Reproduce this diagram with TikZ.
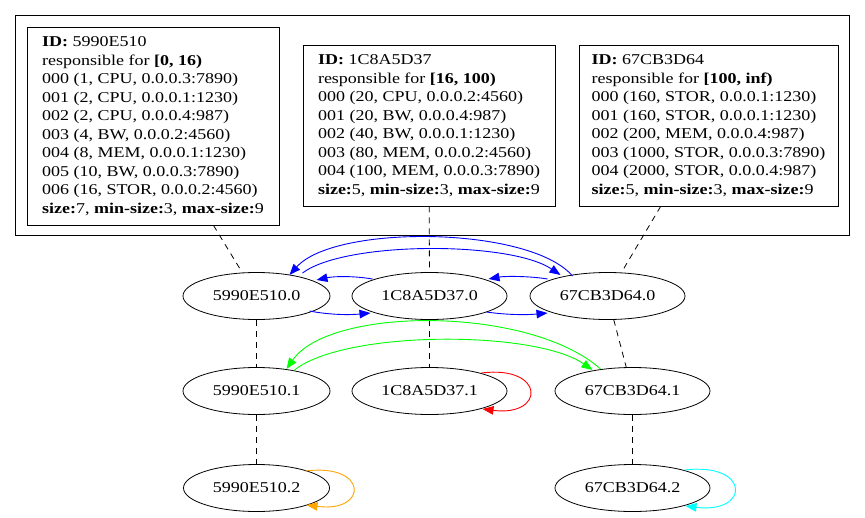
\documentclass[tikz,border=0pt]{standalone}
\usepackage{fontspec}
\setmainfont{Liberation Serif}[FakeStretch=1.2]
\usetikzlibrary{arrows.meta,calc,shapes.geometric}
\definecolor{gvblue}{RGB}{0,0,255}
\definecolor{gvgreen}{RGB}{0,255,0}
\definecolor{gvred}{RGB}{255,0,0}
\definecolor{gvorange}{RGB}{255,165,0}
\definecolor{gvcyan}{RGB}{0,255,255}
\tikzset{
  info/.style={draw, align=left, inner sep=0pt, line width=0.8pt, font=\fontsize{15}{18.5}\selectfont},
  state/.style={draw, ellipse, minimum height=47pt, inner sep=0pt, line width=0.8pt, font=\fontsize{15}{17}\selectfont},
  link/.style={line width=0.8pt, dash pattern=on 6pt off 5pt},
  arr/.style={line width=0.9pt, -{Triangle[length=11pt,width=8.5pt]}},
}
\begin{document}
\begin{tikzpicture}[x=1pt,y=-1pt]
\useasboundingbox (0,0) rectangle (865,517);
\node[draw, line width=0.8pt, minimum width=834pt, minimum height=220pt, inner sep=0pt] (cluster) at (432,125) {};

\node[info, minimum width=252pt, minimum height=198pt] (box1) at (153,126) {%
\textbf{ID:} 5990E510\\
responsible for \textbf{[0, 16)}\\
000 (1, CPU, 0.0.0.3:7890)\\
001 (2, CPU, 0.0.0.1:1230)\\
002 (2, CPU, 0.0.0.4:987)\\
003 (4, BW, 0.0.0.2:4560)\\
004 (8, MEM, 0.0.0.1:1230)\\
005 (10, BW, 0.0.0.3:7890)\\
006 (16, STOR, 0.0.0.2:4560)\\
\textbf{size:}7, \textbf{min-size:}3, \textbf{max-size:}9};

\node[info, minimum width=252pt, minimum height=161pt] (box2) at (429,125.5) {%
\textbf{ID:} 1C8A5D37\\
responsible for \textbf{[16, 100)}\\
000 (20, CPU, 0.0.0.2:4560)\\
001 (20, BW, 0.0.0.4:987)\\
002 (40, BW, 0.0.0.1:1230)\\
003 (80, MEM, 0.0.0.2:4560)\\
004 (100, MEM, 0.0.0.3:7890)\\
\textbf{size:}5, \textbf{min-size:}3, \textbf{max-size:}9};

\node[info, minimum width=259pt, minimum height=161pt] (box3) at (708.5,125.5) {%
\textbf{ID:} 67CB3D64\\
responsible for \textbf{[100, inf)}\\
000 (160, STOR, 0.0.0.1:1230)\\
001 (160, STOR, 0.0.0.1:1230)\\
002 (200, MEM, 0.0.0.4:987)\\
003 (1000, STOR, 0.0.0.3:7890)\\
004 (2000, STOR, 0.0.0.4:987)\\
\textbf{size:}5, \textbf{min-size:}3, \textbf{max-size:}9};

\node[state, minimum width=147pt] (n00) at (256.5,296) {5990E510.0};
\node[state, minimum width=155pt] (n10) at (429.5,296) {1C8A5D37.0};
\node[state, minimum width=155pt] (n20) at (607.5,296) {67CB3D64.0};
\node[state, minimum width=147pt] (n01) at (256.5,391) {5990E510.1};
\node[state, minimum width=155pt] (n11) at (429.5,391) {1C8A5D37.1};
\node[state, minimum width=155pt] (n21) at (632.5,391) {67CB3D64.1};
\node[state, minimum width=146pt] (n02) at (256.5,488) {5990E510.2};
\node[state, minimum width=155pt] (n22) at (632.5,488) {67CB3D64.2};

% dashed links
\draw[link] (box1) -- (n00);
\draw[link] (box2) -- (n10);
\draw[link] (box3) -- (n20);
\draw[link] (n00) -- (n01);
\draw[link] (n10) -- (n11);
\draw[link] (n20) -- (n21);
\draw[link] (n01) -- (n02);
\draw[link] (n21) -- (n22);

% blue
\draw[arr, gvblue] ($(n20.center)+(-35,-20)$) .. controls (530,226) and (335,224) .. ($(n00.center)+(33,-21)$);
\draw[arr, gvblue] ($(n00.center)+(46,-23)$) .. controls (345,241) and (510,241) .. ($(n20.center)+(-47,-21)$);
\draw[arr, gvblue] ($(n10.center)+(-57,-17)$) .. controls (355,276) and (335,276) .. ($(n00.center)+(60,-16)$);
\draw[arr, gvblue] ($(n00.center)+(53,15)$) .. controls (330,315) and (350,315) .. ($(n10.center)+(-59,17)$);
\draw[arr, gvblue] ($(n20.center)+(-60,-17)$) .. controls (530,276) and (505,276) .. ($(n10.center)+(59,-17)$);
\draw[arr, gvblue] ($(n10.center)+(57,16)$) .. controls (507,315) and (527,315) .. ($(n20.center)+(-60,17)$);

% green
\draw[arr, gvgreen] ($(n21.center)+(-32,-22)$) .. controls (530,306) and (330,306) .. ($(n01.center)+(30,-22)$);
\draw[arr, gvgreen] ($(n01.center)+(38,-21)$) .. controls (345,330) and (535,330) .. ($(n21.center)+(-40,-21)$);

% self loops
\draw[arr, gvred] ($(n11.center)+(52,-18)$) .. controls ($(n11.center)+(116,-26)$) and ($(n11.center)+(116,26)$) .. ($(n11.center)+(53,18)$);
\draw[arr, gvorange] ($(n02.center)+(49,-17)$) .. controls ($(n02.center)+(112,-25)$) and ($(n02.center)+(112,25)$) .. ($(n02.center)+(50,17)$);
\draw[arr, gvcyan] ($(n22.center)+(52,-18)$) .. controls ($(n22.center)+(118,-26)$) and ($(n22.center)+(118,26)$) .. ($(n22.center)+(53,18)$);
\end{tikzpicture}
\end{document}
